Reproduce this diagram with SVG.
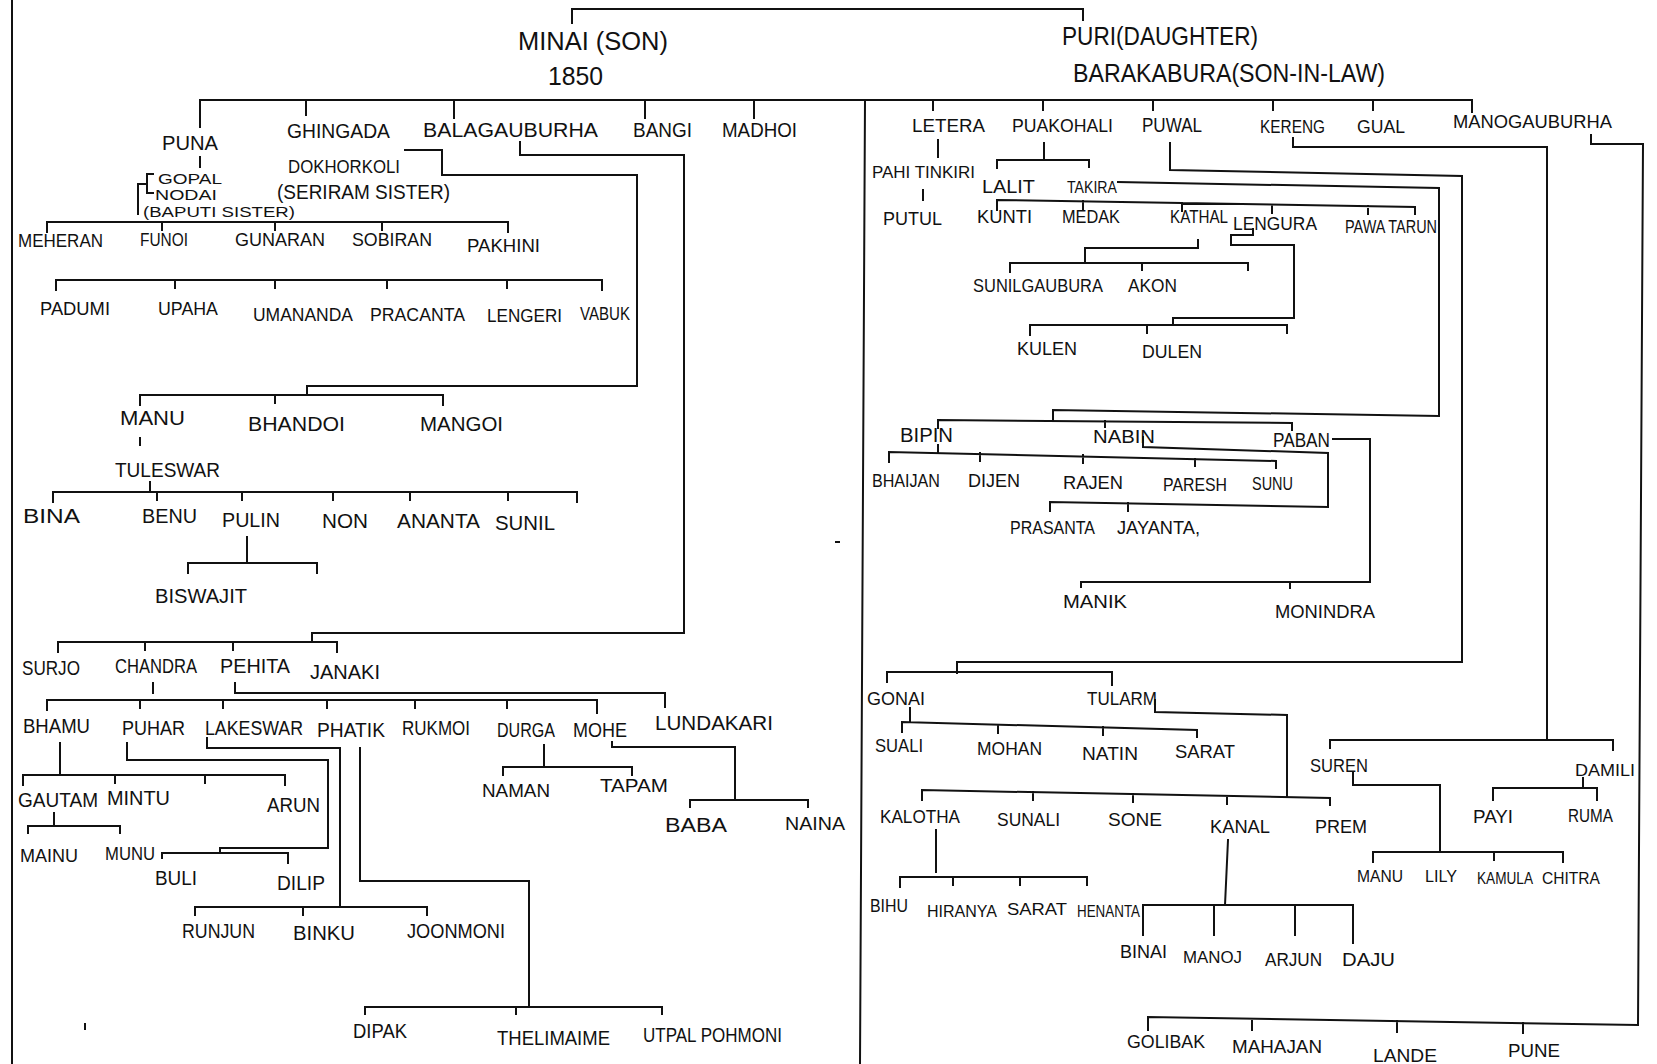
<svg xmlns="http://www.w3.org/2000/svg" width="1657" height="1064" viewBox="0 0 1657 1064">
<style>
text{font-family:"Liberation Sans","DejaVu Sans",sans-serif;fill:#111;font-size:20px;}
.L{font-size:26px;}
.s{font-size:18px;}
.xs{font-size:16px;}
.xxs{font-size:15px;}
#connectors path{fill:none;stroke:#111;stroke-width:2;stroke-linecap:square;}
</style>
<rect width="1657" height="1064" fill="#fff"/>
<g id="connectors">
<path d="M12,0 V1064"/>
<path d="M865,100 L860,1064"/>
<path d="M572,23 V9 H1083 V20"/>
<path d="M200,127 V100 H865"/>
<path d="M306,100 V115 M454,100 V118 M645,100 V118 M754,100 V118"/>
<path d="M865,100 H1472 V112"/>
<path d="M933,100 V110 M1043,100 V110 M1153,100 V110 M1273,100 V110 M1373,100 V110"/>
<path d="M200,157 V167"/>
<path d="M153,174 H147 V193 H153 M147,184 H138 V214"/>
<path d="M47,232 V222 H508 V232 M162,222 V230 M275,222 V230 M382,222 V230"/>
<path d="M56,290 V280 H602 V290 M175,280 V288 M275,280 V288 M387,280 V288 M507,280 V288"/>
<path d="M405,150 H442 V175 H637 V386 H307 V395"/>
<path d="M140,405 V395 H443 V405 M275,395 V403"/>
<path d="M140,438 V445"/>
<path d="M150,482 V492"/>
<path d="M53,502 V492 H577 V502 M157,492 V500 M242,492 V500 M333,492 V500 M410,492 V500 M508,492 V500"/>
<path d="M247,537 V563 M188,573 V563 H317 V573"/>
<path d="M520,142 V155 H684 V633 H312 V642"/>
<path d="M58,652 V642 H337 V652 M145,642 V650 M233,642 V650"/>
<path d="M153,683 V693"/>
<path d="M235,683 V693 H665 V707"/>
<path d="M47,710 V700 H597 V713 M140,700 V708 M223,700 V708 M327,700 V708 M415,700 V708 M507,700 V708"/>
<path d="M60,743 V775 M23,785 V775 H285 V785 M115,775 V783 M205,775 V783"/>
<path d="M54,813 V826 M28,833 V826 H120 V833"/>
<path d="M127,743 V760 H328 V848 H220 V853 M162,858 V853 H288 V863"/>
<path d="M207,738 V748 H340 V907 M195,915 V907 H427 V915 M303,907 V915"/>
<path d="M360,748 V881 H529 V1006 M365,1014 V1007 H662 V1014 M516,1007 V1014"/>
<path d="M544,745 V767 M503,775 V767 H632 V775"/>
<path d="M612,742 V747 H735 V800 M690,807 V800 H808 V807"/>
<path d="M938,140 V157 M923,190 V200"/>
<path d="M1044,143 V160 M997,168 V160 H1089 V167"/>
<path d="M1118,182 L1439,188 V416 L1053,410 V420"/>
<path d="M938,428 V420 L1292,423 V430 M1105,421 V427"/>
<path d="M1170,143 V170 L1462,176 V662 H957 V673"/>
<path d="M887,682 V672 H1112 V685"/>
<path d="M997,210 V200 L1415,207 V214 M1083,201 V209 M1182,203 V211 M1272,205 V213 M1368,206 V214"/>
<path d="M1198,240 V248 H1085 V262 M1010,272 V263 H1248 V270 M1142,263 V270"/>
<path d="M1253,229 V235 H1231 V245 H1294 V318 H1173 V325 M1030,335 V325 H1287 V333 M1147,325 V333"/>
<path d="M938,445 V452 M889,462 V452 L1276,461 V468 M980,453 V461 M1083,455 V463 M1195,459 V466"/>
<path d="M1143,437 V447 L1328,453 V507 L1050,502 V511 M1128,503 V511"/>
<path d="M1333,439 H1370 V582 H1081 V587 M1290,582 V588"/>
<path d="M910,708 V722 M902,732 V722 L1197,730 V737 M998,725 V733 M1103,727 V735"/>
<path d="M1155,700 V712 L1287,715 V797"/>
<path d="M922,800 V790 L1330,798 V805 M1033,792 V800 M1133,794 V802 M1227,796 V804"/>
<path d="M936,830 V872 M900,887 V877 H1087 V885 M953,877 V885 M1020,877 V885"/>
<path d="M1228,840 L1225,905 M1143,935 V905 H1353 V943 M1214,905 V935 M1295,905 V935"/>
<path d="M1293,138 V147 H1547 V740 M1330,748 V740 H1613 V750"/>
<path d="M1583,778 V788 M1493,800 V788 H1597 V800"/>
<path d="M1353,773 V785 H1440 V852 M1373,862 V852 H1563 V862 M1494,852 V860"/>
<path d="M1591,135 V144 H1643 L1638,1025 L1148,1017 V1030 M1252,1019 V1030 M1397,1021 V1032 M1523,1023 V1033"/>
<path d="M85,1024 V1029 M836,542 H839"/>
</g>
<g id="n-minai"><text class="L" x="518" y="50" textLength="150" lengthAdjust="spacingAndGlyphs">MINAI (SON)</text><text class="L" x="548" y="85" textLength="55" lengthAdjust="spacingAndGlyphs">1850</text></g>
<g id="n-puri"><text class="L" x="1062" y="45" textLength="196" lengthAdjust="spacingAndGlyphs">PURI(DAUGHTER)</text><text class="L" x="1073" y="82" textLength="312" lengthAdjust="spacingAndGlyphs">BARAKABURA(SON-IN-LAW)</text></g>
<g id="n-puna"><text x="162" y="150" textLength="56" lengthAdjust="spacingAndGlyphs">PUNA</text></g>
<g id="n-ghingada"><text x="287" y="138" textLength="103" lengthAdjust="spacingAndGlyphs">GHINGADA</text></g>
<g id="n-balagauburha"><text x="423" y="137" textLength="175" lengthAdjust="spacingAndGlyphs">BALAGAUBURHA</text></g>
<g id="n-bangi"><text x="633" y="137" textLength="59" lengthAdjust="spacingAndGlyphs">BANGI</text></g>
<g id="n-madhoi"><text x="722" y="137" textLength="75" lengthAdjust="spacingAndGlyphs">MADHOI</text></g>
<g id="n-gopal"><text class="xxs" x="158" y="184" textLength="64" lengthAdjust="spacingAndGlyphs">GOPAL</text><text class="xxs" x="155" y="200" textLength="62" lengthAdjust="spacingAndGlyphs">NODAI</text><text class="xxs" x="143" y="217" textLength="152" lengthAdjust="spacingAndGlyphs">(BAPUTI SISTER)</text></g>
<g id="n-dokhorkoli"><text class="s" x="288" y="173" textLength="112" lengthAdjust="spacingAndGlyphs">DOKHORKOLI</text><text x="277" y="199" textLength="173" lengthAdjust="spacingAndGlyphs">(SERIRAM SISTER)</text></g>
<g id="n-meheran"><text class="s" x="18" y="247" textLength="85" lengthAdjust="spacingAndGlyphs">MEHERAN</text></g>
<g id="n-funoi"><text class="s" x="140" y="246" textLength="48" lengthAdjust="spacingAndGlyphs">FUNOI</text></g>
<g id="n-gunaran"><text class="s" x="235" y="246" textLength="90" lengthAdjust="spacingAndGlyphs">GUNARAN</text></g>
<g id="n-sobiran"><text class="s" x="352" y="246" textLength="80" lengthAdjust="spacingAndGlyphs">SOBIRAN</text></g>
<g id="n-pakhini"><text class="s" x="467" y="252" textLength="73" lengthAdjust="spacingAndGlyphs">PAKHINI</text></g>
<g id="n-padumi"><text class="s" x="40" y="315" textLength="70" lengthAdjust="spacingAndGlyphs">PADUMI</text></g>
<g id="n-upaha"><text class="s" x="158" y="315" textLength="60" lengthAdjust="spacingAndGlyphs">UPAHA</text></g>
<g id="n-umananda"><text class="s" x="253" y="321" textLength="100" lengthAdjust="spacingAndGlyphs">UMANANDA</text></g>
<g id="n-pracanta"><text class="s" x="370" y="321" textLength="95" lengthAdjust="spacingAndGlyphs">PRACANTA</text></g>
<g id="n-lengeri"><text class="s" x="487" y="322" textLength="75" lengthAdjust="spacingAndGlyphs">LENGERI</text></g>
<g id="n-vabuk"><text class="s" x="580" y="320" textLength="50" lengthAdjust="spacingAndGlyphs">VABUK</text></g>
<g id="n-manu"><text x="120" y="425" textLength="65" lengthAdjust="spacingAndGlyphs">MANU</text></g>
<g id="n-bhandoi"><text x="248" y="431" textLength="97" lengthAdjust="spacingAndGlyphs">BHANDOI</text></g>
<g id="n-mangoi"><text x="420" y="431" textLength="83" lengthAdjust="spacingAndGlyphs">MANGOI</text></g>
<g id="n-tuleswar"><text x="115" y="477" textLength="105" lengthAdjust="spacingAndGlyphs">TULESWAR</text></g>
<g id="n-bina"><text x="23" y="523" textLength="57" lengthAdjust="spacingAndGlyphs">BINA</text></g>
<g id="n-benu"><text x="142" y="523" textLength="55" lengthAdjust="spacingAndGlyphs">BENU</text></g>
<g id="n-pulin"><text x="222" y="527" textLength="58" lengthAdjust="spacingAndGlyphs">PULIN</text></g>
<g id="n-non"><text x="322" y="528" textLength="46" lengthAdjust="spacingAndGlyphs">NON</text></g>
<g id="n-ananta"><text x="397" y="528" textLength="83" lengthAdjust="spacingAndGlyphs">ANANTA</text></g>
<g id="n-sunil"><text x="495" y="530" textLength="60" lengthAdjust="spacingAndGlyphs">SUNIL</text></g>
<g id="n-biswajit"><text x="155" y="603" textLength="92" lengthAdjust="spacingAndGlyphs">BISWAJIT</text></g>
<g id="n-surjo"><text x="22" y="675" textLength="58" lengthAdjust="spacingAndGlyphs">SURJO</text></g>
<g id="n-chandra"><text x="115" y="673" textLength="82" lengthAdjust="spacingAndGlyphs">CHANDRA</text></g>
<g id="n-pehita"><text x="220" y="673" textLength="70" lengthAdjust="spacingAndGlyphs">PEHITA</text></g>
<g id="n-janaki"><text x="310" y="679" textLength="70" lengthAdjust="spacingAndGlyphs">JANAKI</text></g>
<g id="n-bhamu"><text x="23" y="733" textLength="67" lengthAdjust="spacingAndGlyphs">BHAMU</text></g>
<g id="n-puhar"><text x="122" y="735" textLength="63" lengthAdjust="spacingAndGlyphs">PUHAR</text></g>
<g id="n-lakeswar"><text x="205" y="735" textLength="98" lengthAdjust="spacingAndGlyphs">LAKESWAR</text></g>
<g id="n-phatik"><text x="317" y="737" textLength="68" lengthAdjust="spacingAndGlyphs">PHATIK</text></g>
<g id="n-rukmoi"><text x="402" y="735" textLength="68" lengthAdjust="spacingAndGlyphs">RUKMOI</text></g>
<g id="n-durga"><text x="497" y="737" textLength="58" lengthAdjust="spacingAndGlyphs">DURGA</text></g>
<g id="n-mohe"><text x="573" y="737" textLength="54" lengthAdjust="spacingAndGlyphs">MOHE</text></g>
<g id="n-lundakari"><text x="655" y="730" textLength="118" lengthAdjust="spacingAndGlyphs">LUNDAKARI</text></g>
<g id="n-gautam"><text x="18" y="807" textLength="80" lengthAdjust="spacingAndGlyphs">GAUTAM</text></g>
<g id="n-mintu"><text x="107" y="805" textLength="63" lengthAdjust="spacingAndGlyphs">MINTU</text></g>
<g id="n-arun"><text x="267" y="812" textLength="53" lengthAdjust="spacingAndGlyphs">ARUN</text></g>
<g id="n-mainu"><text class="s" x="20" y="862" textLength="58" lengthAdjust="spacingAndGlyphs">MAINU</text></g>
<g id="n-munu"><text class="s" x="105" y="860" textLength="50" lengthAdjust="spacingAndGlyphs">MUNU</text></g>
<g id="n-buli"><text x="155" y="885" textLength="42" lengthAdjust="spacingAndGlyphs">BULI</text></g>
<g id="n-dilip"><text x="277" y="890" textLength="48" lengthAdjust="spacingAndGlyphs">DILIP</text></g>
<g id="n-runjun"><text x="182" y="938" textLength="73" lengthAdjust="spacingAndGlyphs">RUNJUN</text></g>
<g id="n-binku"><text x="293" y="940" textLength="62" lengthAdjust="spacingAndGlyphs">BINKU</text></g>
<g id="n-joonmoni"><text x="407" y="938" textLength="98" lengthAdjust="spacingAndGlyphs">JOONMONI</text></g>
<g id="n-dipak"><text x="353" y="1038" textLength="54" lengthAdjust="spacingAndGlyphs">DIPAK</text></g>
<g id="n-thelimaime"><text x="497" y="1045" textLength="113" lengthAdjust="spacingAndGlyphs">THELIMAIME</text></g>
<g id="n-utpal"><text x="643" y="1042" textLength="139" lengthAdjust="spacingAndGlyphs">UTPAL POHMONI</text></g>
<g id="n-naman"><text class="s" x="482" y="797" textLength="68" lengthAdjust="spacingAndGlyphs">NAMAN</text></g>
<g id="n-tapam"><text class="s" x="600" y="792" textLength="68" lengthAdjust="spacingAndGlyphs">TAPAM</text></g>
<g id="n-baba"><text x="665" y="832" textLength="62" lengthAdjust="spacingAndGlyphs">BABA</text></g>
<g id="n-naina"><text class="s" x="785" y="830" textLength="60" lengthAdjust="spacingAndGlyphs">NAINA</text></g>
<g id="n-letera"><text class="s" x="912" y="132" textLength="73" lengthAdjust="spacingAndGlyphs">LETERA</text></g>
<g id="n-puakohali"><text class="s" x="1012" y="132" textLength="101" lengthAdjust="spacingAndGlyphs">PUAKOHALI</text></g>
<g id="n-puwal"><text x="1142" y="132" textLength="60" lengthAdjust="spacingAndGlyphs">PUWAL</text></g>
<g id="n-kereng"><text class="s" x="1260" y="133" textLength="65" lengthAdjust="spacingAndGlyphs">KERENG</text></g>
<g id="n-gual"><text class="s" x="1357" y="133" textLength="48" lengthAdjust="spacingAndGlyphs">GUAL</text></g>
<g id="n-manogauburha"><text class="s" x="1453" y="128" textLength="159" lengthAdjust="spacingAndGlyphs">MANOGAUBURHA</text></g>
<g id="n-pahitinkiri"><text class="xs" x="872" y="178" textLength="103" lengthAdjust="spacingAndGlyphs">PAHI TINKIRI</text></g>
<g id="n-putul"><text class="s" x="883" y="225" textLength="59" lengthAdjust="spacingAndGlyphs">PUTUL</text></g>
<g id="n-lalit"><text class="s" x="982" y="193" textLength="53" lengthAdjust="spacingAndGlyphs">LALIT</text></g>
<g id="n-takira"><text class="xs" x="1067" y="193" textLength="50" lengthAdjust="spacingAndGlyphs">TAKIRA</text></g>
<g id="n-kunti"><text class="s" x="977" y="223" textLength="55" lengthAdjust="spacingAndGlyphs">KUNTI</text></g>
<g id="n-medak"><text class="s" x="1062" y="223" textLength="58" lengthAdjust="spacingAndGlyphs">MEDAK</text></g>
<g id="n-kathal"><text class="s" x="1170" y="223" textLength="58" lengthAdjust="spacingAndGlyphs">KATHAL</text></g>
<g id="n-lengura"><text class="s" x="1233" y="230" textLength="84" lengthAdjust="spacingAndGlyphs">LENGURA</text></g>
<g id="n-pawatarun"><text class="s" x="1345" y="233" textLength="92" lengthAdjust="spacingAndGlyphs">PAWA TARUN</text></g>
<g id="n-sunilgaubura"><text class="s" x="973" y="292" textLength="130" lengthAdjust="spacingAndGlyphs">SUNILGAUBURA</text></g>
<g id="n-akon"><text class="s" x="1128" y="292" textLength="49" lengthAdjust="spacingAndGlyphs">AKON</text></g>
<g id="n-kulen"><text class="s" x="1017" y="355" textLength="60" lengthAdjust="spacingAndGlyphs">KULEN</text></g>
<g id="n-dulen"><text class="s" x="1142" y="358" textLength="60" lengthAdjust="spacingAndGlyphs">DULEN</text></g>
<g id="n-bipin"><text x="900" y="442" textLength="53" lengthAdjust="spacingAndGlyphs">BIPIN</text></g>
<g id="n-nabin"><text class="s" x="1093" y="443" textLength="62" lengthAdjust="spacingAndGlyphs">NABIN</text></g>
<g id="n-paban"><text x="1273" y="447" textLength="57" lengthAdjust="spacingAndGlyphs">PABAN</text></g>
<g id="n-bhaijan"><text class="s" x="872" y="487" textLength="68" lengthAdjust="spacingAndGlyphs">BHAIJAN</text></g>
<g id="n-dijen"><text class="s" x="968" y="487" textLength="52" lengthAdjust="spacingAndGlyphs">DIJEN</text></g>
<g id="n-rajen"><text class="s" x="1063" y="489" textLength="60" lengthAdjust="spacingAndGlyphs">RAJEN</text></g>
<g id="n-paresh"><text class="s" x="1163" y="491" textLength="64" lengthAdjust="spacingAndGlyphs">PARESH</text></g>
<g id="n-sunu"><text class="s" x="1252" y="490" textLength="41" lengthAdjust="spacingAndGlyphs">SUNU</text></g>
<g id="n-prasanta"><text class="s" x="1010" y="534" textLength="85" lengthAdjust="spacingAndGlyphs">PRASANTA</text></g>
<g id="n-jayanta"><text class="s" x="1117" y="534" textLength="83" lengthAdjust="spacingAndGlyphs">JAYANTA,</text></g>
<g id="n-manik"><text class="s" x="1063" y="608" textLength="64" lengthAdjust="spacingAndGlyphs">MANIK</text></g>
<g id="n-monindra"><text class="s" x="1275" y="618" textLength="100" lengthAdjust="spacingAndGlyphs">MONINDRA</text></g>
<g id="n-gonai"><text class="s" x="867" y="705" textLength="58" lengthAdjust="spacingAndGlyphs">GONAI</text></g>
<g id="n-tularm"><text class="s" x="1087" y="705" textLength="70" lengthAdjust="spacingAndGlyphs">TULARM</text></g>
<g id="n-suali"><text class="s" x="875" y="752" textLength="48" lengthAdjust="spacingAndGlyphs">SUALI</text></g>
<g id="n-mohan"><text class="s" x="977" y="755" textLength="65" lengthAdjust="spacingAndGlyphs">MOHAN</text></g>
<g id="n-natin"><text class="s" x="1082" y="760" textLength="56" lengthAdjust="spacingAndGlyphs">NATIN</text></g>
<g id="n-sarat1"><text class="s" x="1175" y="758" textLength="60" lengthAdjust="spacingAndGlyphs">SARAT</text></g>
<g id="n-kalotha"><text class="s" x="880" y="823" textLength="80" lengthAdjust="spacingAndGlyphs">KALOTHA</text></g>
<g id="n-sunali"><text class="s" x="997" y="826" textLength="63" lengthAdjust="spacingAndGlyphs">SUNALI</text></g>
<g id="n-sone"><text class="s" x="1108" y="826" textLength="54" lengthAdjust="spacingAndGlyphs">SONE</text></g>
<g id="n-kanal"><text class="s" x="1210" y="833" textLength="60" lengthAdjust="spacingAndGlyphs">KANAL</text></g>
<g id="n-prem"><text class="s" x="1315" y="833" textLength="52" lengthAdjust="spacingAndGlyphs">PREM</text></g>
<g id="n-bihu"><text class="s" x="870" y="912" textLength="38" lengthAdjust="spacingAndGlyphs">BIHU</text></g>
<g id="n-hiranya"><text class="xs" x="927" y="917" textLength="70" lengthAdjust="spacingAndGlyphs">HIRANYA</text></g>
<g id="n-sarat2"><text class="xs" x="1007" y="915" textLength="60" lengthAdjust="spacingAndGlyphs">SARAT</text></g>
<g id="n-henanta"><text class="xs" x="1077" y="917" textLength="63" lengthAdjust="spacingAndGlyphs">HENANTA</text></g>
<g id="n-binai"><text class="s" x="1120" y="958" textLength="47" lengthAdjust="spacingAndGlyphs">BINAI</text></g>
<g id="n-manoj"><text class="xs" x="1183" y="963" textLength="59" lengthAdjust="spacingAndGlyphs">MANOJ</text></g>
<g id="n-arjun"><text class="s" x="1265" y="966" textLength="57" lengthAdjust="spacingAndGlyphs">ARJUN</text></g>
<g id="n-daju"><text class="s" x="1342" y="966" textLength="53" lengthAdjust="spacingAndGlyphs">DAJU</text></g>
<g id="n-suren"><text class="s" x="1310" y="772" textLength="58" lengthAdjust="spacingAndGlyphs">SUREN</text></g>
<g id="n-damili"><text class="xs" x="1575" y="776" textLength="60" lengthAdjust="spacingAndGlyphs">DAMILI</text></g>
<g id="n-payi"><text class="s" x="1473" y="823" textLength="40" lengthAdjust="spacingAndGlyphs">PAYI</text></g>
<g id="n-ruma"><text class="s" x="1568" y="822" textLength="45" lengthAdjust="spacingAndGlyphs">RUMA</text></g>
<g id="n-manu2"><text class="xs" x="1357" y="882" textLength="46" lengthAdjust="spacingAndGlyphs">MANU</text></g>
<g id="n-lily"><text class="xs" x="1425" y="882" textLength="32" lengthAdjust="spacingAndGlyphs">LILY</text></g>
<g id="n-kamula"><text class="xs" x="1477" y="884" textLength="56" lengthAdjust="spacingAndGlyphs">KAMULA</text></g>
<g id="n-chitra"><text class="xs" x="1542" y="884" textLength="58" lengthAdjust="spacingAndGlyphs">CHITRA</text></g>
<g id="n-golibak"><text class="s" x="1127" y="1048" textLength="78" lengthAdjust="spacingAndGlyphs">GOLIBAK</text></g>
<g id="n-mahajan"><text class="s" x="1232" y="1053" textLength="90" lengthAdjust="spacingAndGlyphs">MAHAJAN</text></g>
<g id="n-lande"><text class="s" x="1373" y="1062" textLength="64" lengthAdjust="spacingAndGlyphs">LANDE</text></g>
<g id="n-pune"><text class="s" x="1508" y="1057" textLength="52" lengthAdjust="spacingAndGlyphs">PUNE</text></g>
</svg>
